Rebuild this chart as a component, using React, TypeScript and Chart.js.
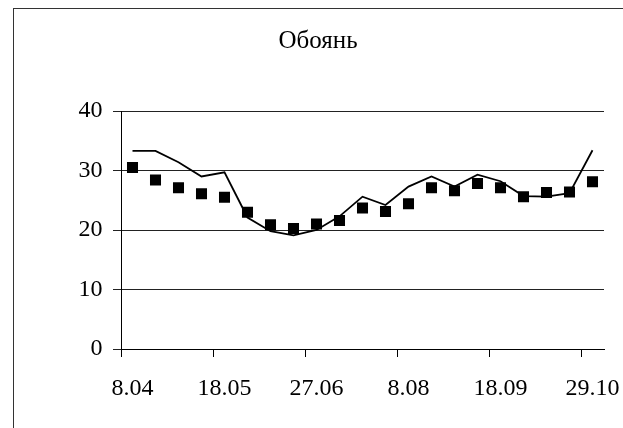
import React, { useEffect, useRef } from "react";
import { Chart, registerables } from "chart.js";

Chart.register(...registerables);

// ---- data ----
const titleText = "Обоянь";
const categories = [
  "8.04", "18.04", "28.04", "8.05", "18.05", "28.05", "7.06", "17.06", "27.06",
  "7.07", "17.07", "28.07", "8.08", "18.08", "28.08", "8.09", "18.09", "28.09",
  "8.10", "18.10", "29.10",
];
const tickLabelEvery = 4;
const lineValues = [
  33.3, 33.3, 31.4, 29.0, 29.7, 22.1, 19.8, 19.1, 20.0, 22.3, 25.6, 24.2, 27.3,
  29.0, 27.3, 29.3, 28.2, 25.7, 25.6, 26.2, 33.4,
];
const markerValues = [
  30.5, 28.4, 27.1, 26.1, 25.5, 23.0, 20.9, 20.25, 21.0, 21.6, 23.7, 23.1, 24.4,
  27.1, 26.6, 27.8, 27.1, 25.6, 26.3, 26.4, 28.1,
];
const yMin = 0;
const yMax = 40;
const yStep = 10;

const FONT = '"Liberation Serif", "Times New Roman", serif';

const titlePlugin = {
  id: "excelTitle",
  afterDraw(chart: any) {
    const ctx = chart.ctx;
    ctx.save();
    ctx.font = `25px ${FONT}`;
    ctx.fillStyle = "#000";
    ctx.textAlign = "center";
    ctx.textBaseline = "alphabetic";
    ctx.fillText(titleText, 318, 48);
    ctx.restore();
  },
};

export default function App() {
  const canvasRef = useRef<HTMLCanvasElement | null>(null);

  useEffect(() => {
    if (!canvasRef.current) return;
    const chart = new Chart(canvasRef.current, {
      type: "line",
      data: {
        labels: categories,
        datasets: [
          {
            label: "Ряд2",
            data: markerValues,
            showLine: false,
            pointStyle: "rect",
            pointRadius: 7.8,
            pointHoverRadius: 7.8,
            pointBorderWidth: 0,
            pointBackgroundColor: "#000",
            borderColor: "#000",
            backgroundColor: "#000",
            order: 1,
          },
          {
            label: "Ряд1",
            data: lineValues,
            borderColor: "#000",
            borderWidth: 1.8,
            pointRadius: 0,
            pointHoverRadius: 0,
            tension: 0,
            fill: false,
            order: 2,
          },
        ],
      },
      options: {
        responsive: false,
        animation: false,
        devicePixelRatio: 1,
        layout: { padding: { left: 0, right: 19, top: 111, bottom: 0 } },
        plugins: {
          legend: { display: false },
          tooltip: { enabled: false },
          title: { display: false },
        },
        scales: {
          x: {
            type: "category",
            offset: true,
            grid: {
              offset: true,
              drawOnChartArea: false,
              drawTicks: true,
              tickLength: 8,
              color: (ctx: any) =>
                typeof ctx.index === "number" && ctx.index % tickLabelEvery === 0
                  ? "#000"
                  : "rgba(0,0,0,0)",
            },
            border: { display: true, color: "#000", width: 1 },
            ticks: {
              autoSkip: false,
              maxRotation: 0,
              minRotation: 0,
              padding: 17,
              color: "#000",
              font: { family: FONT, size: 24 },
              callback: (_v: any, index: number) =>
                index % tickLabelEvery === 0 ? categories[index] : "",
            },
            afterFit: (scale: any) => {
              scale.height = 79;
              scale.paddingLeft = 0;
              scale.paddingRight = 0;
            },
          },
          y: {
            min: yMin,
            max: yMax,
            grid: {
              color: "#222",
              lineWidth: 1,
              drawTicks: true,
              tickLength: 8,
            },
            border: { display: true, color: "#000", width: 1 },
            ticks: {
              stepSize: yStep,
              padding: 10.5,
              color: "#000",
              font: { family: FONT, size: 24 },
            },
            afterFit: (scale: any) => {
              scale.width = 121;
              scale.paddingTop = 0;
              scale.paddingBottom = 0;
            },
          },
        },
      },
      plugins: [titlePlugin],
    });
    return () => chart.destroy();
  }, []);

  return (
    <div
      style={{
        position: "fixed",
        left: 0,
        top: 0,
        width: 623,
        height: 428,
        overflow: "hidden",
        background: "#fff",
      }}
    >
      <canvas
        ref={canvasRef}
        width={623}
        height={428}
        style={{ display: "block", position: "absolute", left: 0, top: 0 }}
      />
      <div
        style={{
          position: "absolute",
          left: 13,
          top: 8,
          width: 700,
          height: 500,
          border: "1px solid #333",
          pointerEvents: "none",
        }}
      />
    </div>
  );
}
